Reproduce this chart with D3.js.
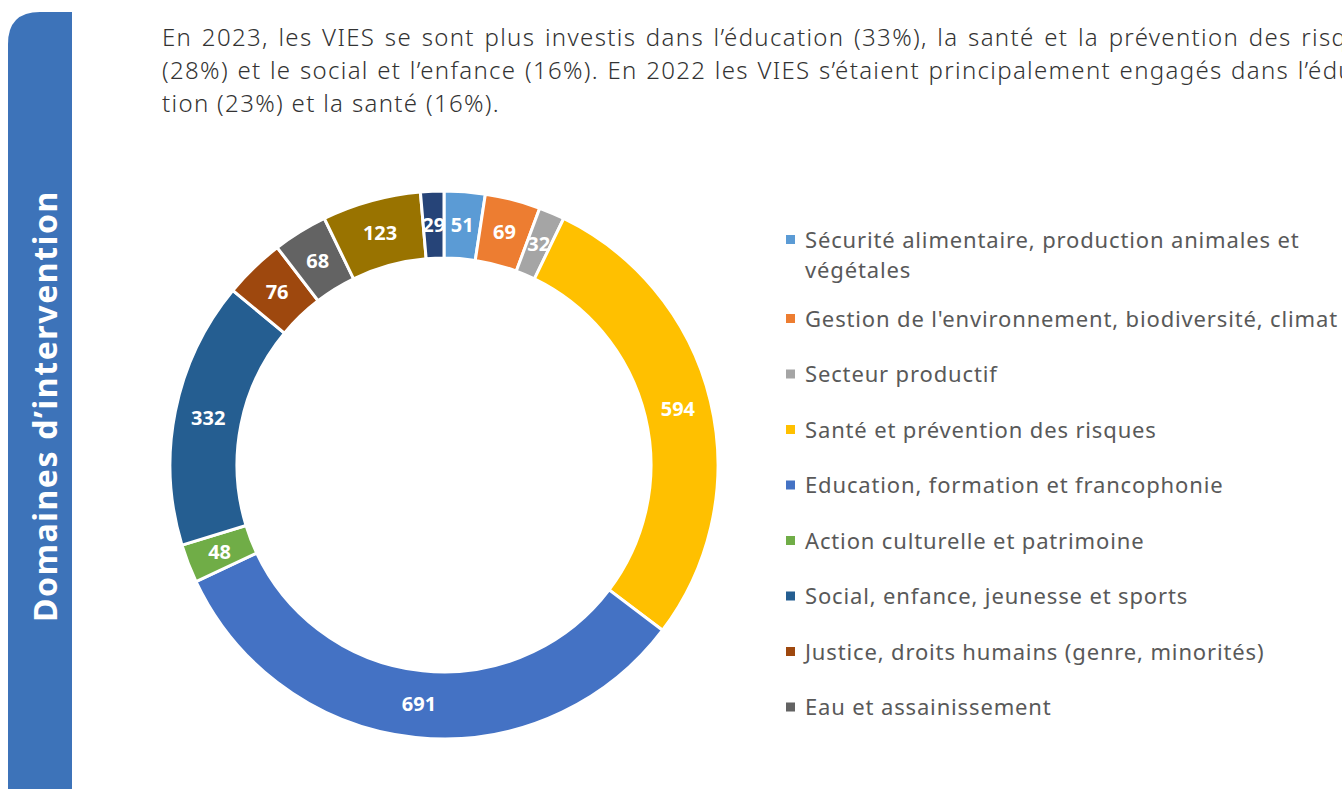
<!DOCTYPE html>
<html>
<head>
<meta charset="utf-8">
<script src="https://cdn.jsdelivr.net/npm/d3@7"></script>
<style>
  html, body { margin: 0; padding: 0; background: #fff; overflow: hidden; }
  svg { display: block; }
</style>
</head>
<body>
<svg id="chart" width="1342" height="789"></svg>
<script>
// data, clockwise from 12 o'clock
const categories = [
  "Sécurité alimentaire, production animales et végétales",
  "Gestion de l'environnement, biodiversité, climat",
  "Secteur productif",
  "Santé et prévention des risques",
  "Education, formation et francophonie",
  "Action culturelle et patrimoine",
  "Social, enfance, jeunesse et sports",
  "Justice, droits humains (genre, minorités)",
  "Eau et assainissement",
  "Gouvernance",
  "Autres"
];
const values = [51, 69, 32, 594, 691, 48, 332, 76, 68, 123, 29];
const colors = ["#5B9BD5", "#ED7D31", "#A5A5A5", "#FFC000", "#4472C4", "#70AD47",
                "#255E91", "#9E480E", "#636363", "#997300", "#264478"];
const legendShown = 9;  // only the first nine fit in the frame

const headerLines = [
  "En 2023, les VIES se sont plus investis dans l’éducation (33%), la santé et la prévention des risques",
  "(28%) et le social et l’enfance (16%). En 2022 les VIES s’étaient principalement engagés dans l’éduca-",
  "tion (23%) et la santé (16%)."
];
const sideTitle = "Domaines d’intervention";

const svg = d3.select("#chart");
const font = "'Noto Sans', 'Open Sans', sans-serif";

// stretch a text's letter spacing so it reaches a given width
function fitWidth(t, target) {
  const w = t.node().getComputedTextLength();
  const n = t.text().length;
  t.attr("letter-spacing", (target - w) / n);
  return (target - w) / n;
}

// left blue banner
const bx0 = 8, bx1 = 72, by0 = 12, by1 = 809, rTop = 32, rBot = 22;
svg.append("path")
  .attr("d", `M${bx0},${by0 + rTop} Q${bx0},${by0} ${bx0 + rTop},${by0} L${bx1},${by0}
    L${bx1},${by1 - rBot} Q${bx1},${by1} ${bx1 - rBot},${by1} L${bx0},${by1} Z`)
  .attr("fill", "#3D73B9");

const side = svg.append("text")
  .attr("transform", "translate(57,406) rotate(-90)")
  .attr("text-anchor", "middle")
  .attr("fill", "#fff")
  .attr("font-family", font)
  .attr("font-weight", 700)
  .attr("font-size", 32)
  .text(sideTitle);
fitWidth(side, 432);

// header paragraph, justified lines
const hx = 162, hRight = 1390;
const headTexts = headerLines.map((line, i) => svg.append("text")
  .attr("x", hx)
  .attr("y", 46 + i * 33)
  .attr("fill", "#333")
  .attr("font-family", font)
  .attr("font-weight", 300)
  .attr("font-size", 24)
  .text(line));
const ls = fitWidth(headTexts[2], 338);
headTexts.forEach((t, i) => {
  if (i === headTexts.length - 1) return;
  t.attr("letter-spacing", ls);
  const w = t.node().getComputedTextLength();
  const gaps = headerLines[i].split(" ").length - 1;
  if (w <= hRight - hx) {
    t.attr("word-spacing", (hRight - hx - w) / gaps);
  } else {
    fitWidth(t.attr("letter-spacing", 0), hRight - hx);
  }
});

// donut
const cx = 444, cy = 465, rOuter = 274, rInner = 207;
const pie = d3.pie().sort(null).value(d => d)(values);
const arc = d3.arc().innerRadius(rInner).outerRadius(rOuter);
const g = svg.append("g").attr("transform", `translate(${cx},${cy})`);

g.selectAll("path.slice")
  .data(pie)
  .join("path")
  .attr("class", "slice")
  .attr("d", arc)
  .attr("fill", (d, i) => colors[i])
  .attr("stroke", "#fff")
  .attr("stroke-width", 3)
  .attr("stroke-linejoin", "miter");

g.selectAll("text.lab")
  .data(pie)
  .join("text")
  .attr("class", "lab")
  .attr("transform", d => `translate(${arc.centroid(d)})`)
  .attr("text-anchor", "middle")
  .attr("dy", "0.36em")
  .attr("fill", "#fff")
  .attr("font-family", font)
  .attr("font-weight", 700)
  .attr("font-size", 20)
  .text(d => d.data);

// legend
const lx = 786, ly0 = 240, step = 55.5;
const legendItems = categories.slice(0, legendShown).map((name, i) => ({ name, color: colors[i] }));
const leg = svg.append("g");
const legTexts = [];
let y = ly0;
legendItems.forEach((d, i) => {
  const lines = i === 0 ? ["Sécurité alimentaire, production animales et", "végétales"] : [d.name];
  leg.append("rect")
    .attr("x", lx).attr("y", y - 5)
    .attr("width", 9).attr("height", 9)
    .attr("fill", d.color);
  lines.forEach((ln, k) => {
    legTexts.push(leg.append("text")
      .attr("x", lx + 19)
      .attr("y", y + k * 30)
      .attr("dy", "0.35em")
      .attr("fill", "#595959")
      .attr("font-family", font)
      .attr("font-size", 22)
      .text(ln));
  });
  y += i === 0 ? 79 : step;
});
// the "Gestion ..." line runs to the right edge in the reference
const legLs = fitWidth(legTexts[2], 533);
legTexts.forEach(t => t.attr("letter-spacing", legLs));
</script>
</body>
</html>
